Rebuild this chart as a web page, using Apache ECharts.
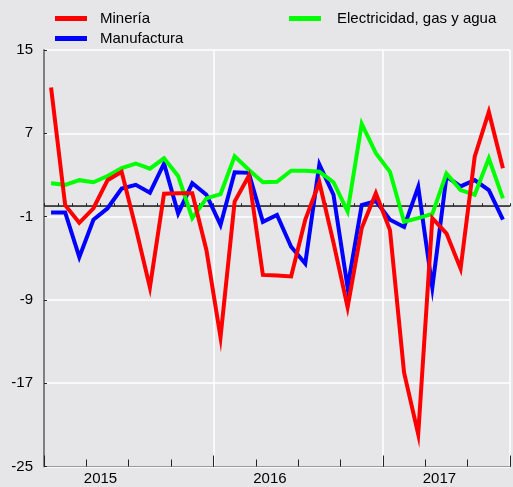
<!DOCTYPE html>
<html>
<head>
<meta charset="utf-8">
<script src="https://cdn.jsdelivr.net/npm/echarts@6/dist/echarts.min.js"></script>
<style>
  html, body { margin: 0; padding: 0; background: #e6e6e8; }
  #chart { width: 513px; height: 487px; }
</style>
</head>
<body>
<div id="chart"></div>
<script>
// monthly series, 33 months
var mineria = [11.4, 0.1, -1.6, -0.2, 2.5, 3.3, -2.1, -7.8, 1.2, 1.25, 1.25, -4.2, -12.6, 0.45, 2.9, -6.6, -6.65,
  -6.75, -1.3, 2.3, -3.5, -9.7, -2.1, 1.25, -2.3, -16.0, -21.9, -1.15, -2.6, -6.0, 4.75, 9.05, 3.65]
var manufactura = [-0.6, -0.6, -4.9, -1.3, -0.2, 1.7, 2.05, 1.3, 4.1, -0.7, 2.2, 1.1, -1.8, 3.25, 3.2, -1.5, -0.85,
  -3.9, -5.5, 4.0, 1.1, -7.8, 0.1, 0.5, -1.3, -2.0, 1.85, -7.8, 2.85, 1.9, 2.5, 1.55, -1.3]
var electricidad = [2.2, 2.05, 2.5, 2.3, 2.9, 3.65, 4.1, 3.6, 4.6, 2.9, -1.15, 0.75, 1.15, 4.8, 3.5, 2.3, 2.35,
  3.4, 3.4, 3.3, 2.3, -0.5, 7.9, 5.1, 3.3, -1.5, -1.15, -0.75, 3.15, 1.55, 1.1, 4.6, 0.75]

var yearLabels = ['2015', '2016', '2017']
var yearLabelAt = [4, 16, 28]  // month index where each year label sits
var nMonths = mineria.length

function toPoints (arr) {
  return arr.map(function (v, i) { return [i + 0.5, v] })
}

function monthAxis (interval, len, opts) {
  var ax = {
    type: 'value',
    min: 0,
    max: nMonths,
    interval: interval,
    position: 'bottom',
    axisLine: { show: true, lineStyle: { color: '#9a9a9a', width: 1 } },
    axisTick: { show: true, inside: true, length: len, lineStyle: { color: '#222', width: 1 } },
    axisLabel: { show: false },
    splitLine: { show: false }
  }
  return Object.assign(ax, opts || {})
}

var chart = echarts.init(document.getElementById('chart'))
chart.setOption({
  backgroundColor: '#e6e6e8',
  animation: false,
  textStyle: { fontFamily: 'Liberation Sans', color: '#000' },
  legend: [
    {
      data: ['Minería', 'Manufactura'],
      orient: 'vertical',
      left: 50,
      top: 6,
      itemWidth: 32,
      itemHeight: 5,
      itemGap: 5,
      icon: 'rect',
      textStyle: { fontSize: 15, color: '#000', padding: [0, 0, 0, 8] }
    },
    {
      data: ['Electricidad, gas y agua'],
      left: 284,
      top: 6,
      itemWidth: 32,
      itemHeight: 5,
      icon: 'rect',
      textStyle: { fontSize: 15, color: '#000', padding: [0, 0, 0, 11] }
    }
  ],
  grid: { left: 44, top: 50, width: 469.5, height: 416.5 },
  xAxis: [
    monthAxis(1, 3, {
      axisLabel: {
        show: true,
        fontSize: 15,
        color: '#000',
        margin: 5,
        formatter: function (v) {
          var k = yearLabelAt.indexOf(v)
          return k >= 0 ? yearLabels[k] : ''
        }
      }
    }),
    monthAxis(3, 7),
    monthAxis(12, 11, { splitLine: { show: true, lineStyle: { color: '#ffffff', width: 1.5 } } })
  ],
  yAxis: {
    type: 'value',
    min: -25,
    max: 15,
    interval: 8,
    axisLine: { show: true, lineStyle: { color: '#808080', width: 2 } },
    axisTick: { show: true, inside: true, length: 3, lineStyle: { color: '#222' } },
    axisLabel: { fontSize: 15, color: '#000', margin: 11 },
    splitLine: { show: true, lineStyle: { color: '#ffffff', width: 1.5 } }
  },
  series: [
    {
      name: 'Manufactura',
      type: 'line',
      data: toPoints(manufactura),
      showSymbol: false,
      color: '#0000ff',
      lineStyle: { width: 4, color: '#0000ff', join: 'miter' }
    },
    {
      name: 'Electricidad, gas y agua',
      type: 'line',
      data: toPoints(electricidad),
      showSymbol: false,
      color: '#00ff00',
      lineStyle: { width: 4, color: '#00ff00', join: 'miter' }
    },
    {
      name: 'Minería',
      type: 'line',
      data: toPoints(mineria),
      showSymbol: false,
      color: '#ff0000',
      lineStyle: { width: 4, color: '#ff0000', join: 'miter' },
      markLine: {
        silent: true,
        symbol: 'none',
        label: { show: false },
        lineStyle: { color: '#222', width: 1.5, type: 'solid' },
        data: [{ yAxis: 0 }],
        z: 1
      }
    }
  ]
})
</script>
</body>
</html>
